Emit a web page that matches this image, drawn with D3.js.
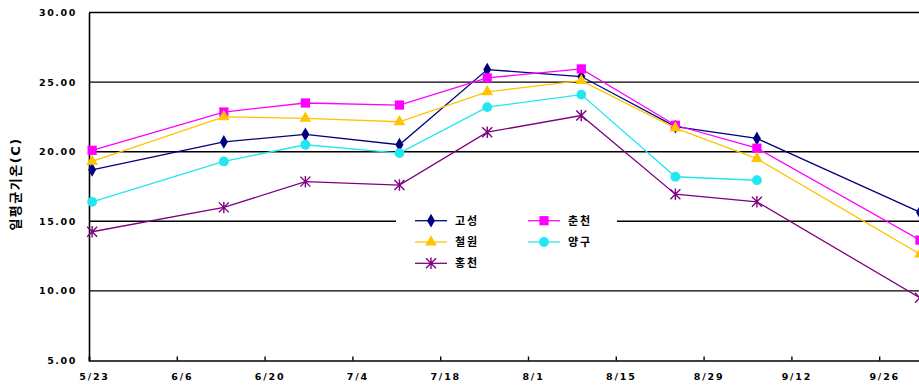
<!DOCTYPE html>
<html>
<head>
<meta charset="utf-8">
<script src="https://cdn.jsdelivr.net/npm/d3@7/dist/d3.min.js"></script>
<style>
  html, body { margin: 0; padding: 0; background: #fff; }
  svg { display: block; }
  text { font-family: "DejaVu Sans", "Noto Sans CJK KR", sans-serif; font-weight: bold; fill: #000; }
</style>
</head>
<body>
<svg id="chart" width="919" height="391"></svg>
<script>
// Observation dates (month/day) and daily mean temperature per station
const dates = ["5/23", "6/13", "6/26", "7/11", "7/25", "8/9", "8/24", "9/6", "10/2"];
const goseong   = [18.7, 20.7, 21.25, 20.5, 25.9, 25.4, 21.8, 20.95, 15.65];
const chuncheon = [20.1, 22.85, 23.5, 23.35, 25.3, 25.95, 21.9, 20.25, 13.65];
const cheorwon  = [19.3, 22.5, 22.4, 22.15, 24.3, 25.1, 21.7, 19.5, 12.65];
const yanggu    = [16.4, 19.3, 20.5, 19.9, 23.2, 24.1, 18.2, 17.95, null];
const hongcheon = [14.25, 16.0, 17.85, 17.6, 21.4, 22.6, 16.95, 16.4, 9.5];

const xTickLabels = ["5/23", "6/6", "6/20", "7/4", "7/18", "8/1", "8/15", "8/29", "9/12", "9/26"];
const yTicks = [5, 10, 15, 20, 25, 30];
const yTitle = "일평균기온(C)";

const series = [
  { name: "고성", values: goseong,   color: "#000080", marker: "diamond" },
  { name: "춘천", values: chuncheon, color: "#ff00ff", marker: "square" },
  { name: "철원", values: cheorwon,  color: "#ffc400", marker: "triangle" },
  { name: "양구", values: yanggu,    color: "#22e6f0", marker: "circle" },
  { name: "홍천", values: hongcheon, color: "#800080", marker: "star" }
];

const YEAR = 2005;
const parseMD = s => { const [m, d] = s.split("/").map(Number); return new Date(Date.UTC(YEAR, m - 1, d)); };
const HALF_DAY = 12 * 3600 * 1000;

const svg = d3.select("#chart");
const plotLeft = 89, plotTop = 12.5, plotBottom = 360.5, plotRight = 967;

const x = d3.scaleUtc()
  .domain([parseMD("5/23"), parseMD("10/10")])
  .range([plotLeft, plotRight]);
const y = d3.scaleLinear().domain([5, 30]).range([plotBottom, plotTop]);

// horizontal gridlines
svg.append("g").selectAll("line")
  .data(yTicks.filter(v => v > 5))
  .join("line")
  .attr("x1", plotLeft).attr("x2", plotRight)
  .attr("y1", d => y(d)).attr("y2", d => y(d))
  .attr("stroke", "#000").attr("stroke-width", 1.4);

// y axis
const yAxis = svg.append("g")
  .attr("transform", `translate(${plotLeft},0)`)
  .call(d3.axisLeft(y).tickValues(yTicks).tickFormat(d3.format(".2f")).tickSize(0).tickPadding(12));
yAxis.select(".domain").attr("stroke", "#000").attr("stroke-width", 1.6);
yAxis.selectAll("text").style("font-size", "9.5px").attr("letter-spacing", "1.6px")
  .style("font-family", "DejaVu Sans").style("font-weight", "bold");

// x axis with inward ticks
const xAxis = svg.append("g")
  .attr("transform", `translate(0,${plotBottom})`)
  .call(d3.axisBottom(x).tickValues(xTickLabels.map(parseMD))
    .tickFormat(d3.utcFormat("%-m/%-d")).tickSize(-4).tickPadding(13));
xAxis.select(".domain").attr("stroke", "#000").attr("stroke-width", 1.6);
xAxis.selectAll(".tick line").attr("stroke", "#000").attr("stroke-width", 1.4);
xAxis.selectAll("text").style("font-size", "9.5px").attr("letter-spacing", "1.8px")
  .attr("dx", "5px")
  .style("font-family", "DejaVu Sans").style("font-weight", "bold");

// y axis title
svg.append("text")
  .attr("transform", `translate(20,184) rotate(-90)`)
  .attr("text-anchor", "middle")
  .style("font-size", "13px").attr("letter-spacing", "1.5px")
  .text(yTitle);

// marker shapes
function markerPath(type, s) {
  switch (type) {
    case "diamond": return d3.symbol(d3.symbolDiamond, s * s * 0.55)();
    case "square": return d3.symbol(d3.symbolSquare, s * s * 0.85)();
    case "triangle": return d3.symbol(d3.symbolTriangle, s * s * 0.6)();
    case "circle": return d3.symbol(d3.symbolCircle, s * s * 0.75)();
    case "star": {
      const r = s / 2;
      return `M${-r},${-r}L${r},${r}M${-r},${r}L${r},${-r}M0,${-r * 1.15}L0,${r * 1.15}`;
    }
  }
}
function drawMarker(g, type, color, s) {
  const p = g.append("path").attr("d", markerPath(type, s));
  if (type === "star") p.attr("fill", "none").attr("stroke", color).attr("stroke-width", 1.4);
  else p.attr("fill", color);
}

const xPos = i => x(new Date(parseMD(dates[i]).getTime() + HALF_DAY));

const line = d3.line()
  .defined(d => d.v != null)
  .x(d => xPos(d.i))
  .y(d => y(d.v));

series.forEach(s => {
  const pts = s.values.map((v, i) => ({ v, i }));
  const g = svg.append("g");
  g.append("path")
    .datum(pts)
    .attr("fill", "none")
    .attr("stroke", s.color)
    .attr("stroke-width", 1.3)
    .attr("d", line);
  pts.filter(d => d.v != null).forEach(d => {
    const mg = g.append("g").attr("transform", `translate(${xPos(d.i)},${y(d.v)})`);
    drawMarker(mg, s.marker, s.color, 10);
  });
});

// legend
const legend = svg.append("g");
legend.append("rect")
  .attr("x", 396).attr("y", 207).attr("width", 221).attr("height", 68)
  .attr("fill", "#fff");
const legendPos = [
  { col: 0, row: 0 }, { col: 1, row: 0 },
  { col: 0, row: 1 }, { col: 1, row: 1 },
  { col: 0, row: 2 }
];
series.forEach((s, k) => {
  const p = legendPos[k];
  const lx = 415 + p.col * 113, ly = 220.7 + p.row * 21.3;
  const g = legend.append("g");
  g.append("line").attr("x1", lx).attr("x2", lx + 32).attr("y1", ly).attr("y2", ly)
    .attr("stroke", s.color).attr("stroke-width", 1.3);
  const mg = g.append("g").attr("transform", `translate(${lx + 16},${ly})`);
  drawMarker(mg, s.marker, s.color, 10);
  g.append("text").attr("x", lx + 40).attr("y", ly).attr("dy", "0.36em")
    .style("font-size", "11px").attr("letter-spacing", "2px")
    .text(s.name);
});
</script>
</body>
</html>
